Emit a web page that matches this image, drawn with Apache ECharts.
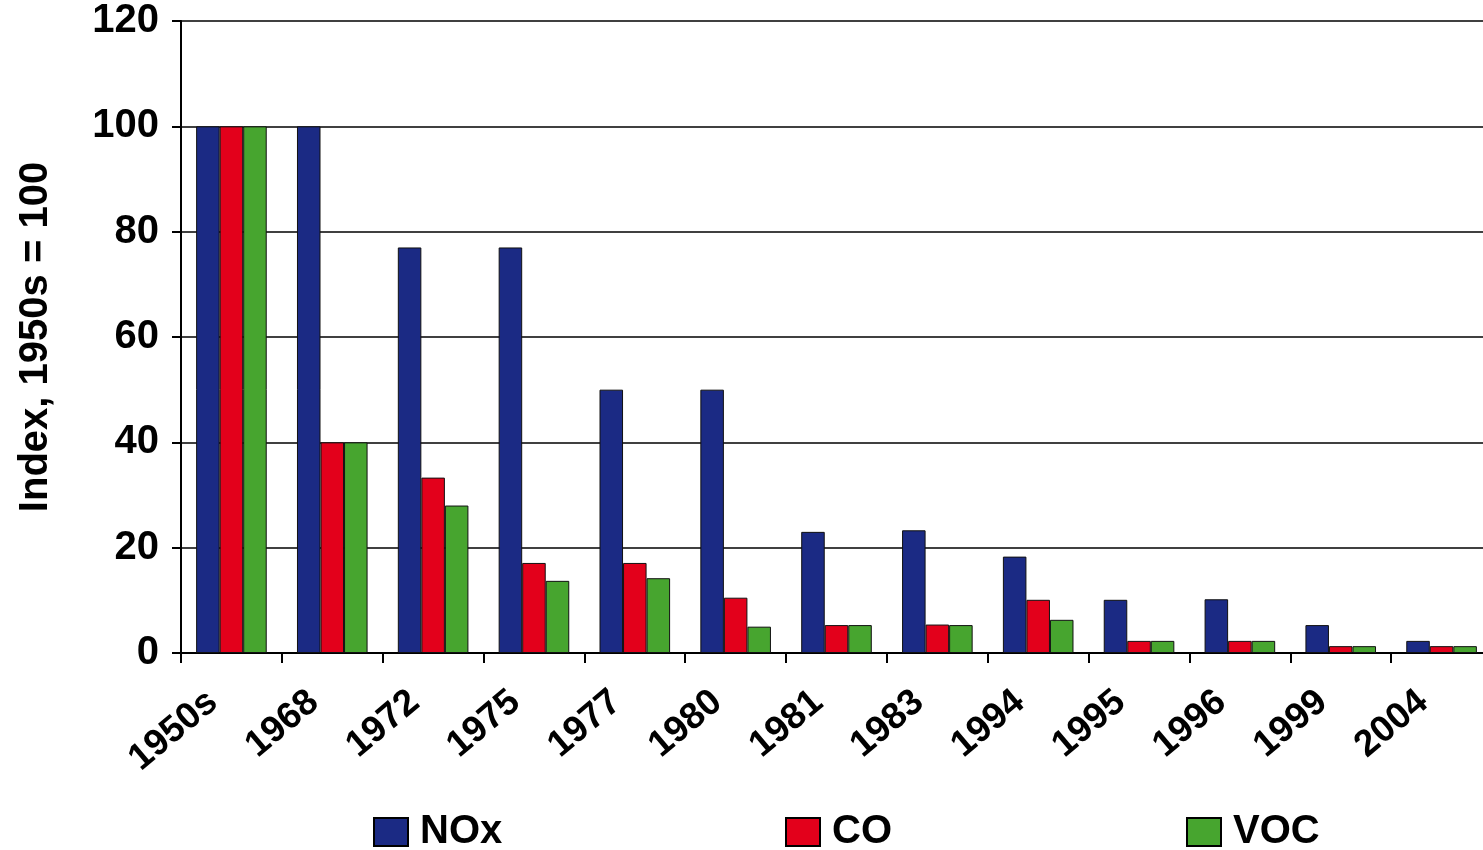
<!DOCTYPE html>
<html>
<head>
<meta charset="utf-8">
<script src="https://cdn.jsdelivr.net/npm/echarts@6/dist/echarts.min.js"></script>
<style>
html,body{margin:0;padding:0;background:#fff;}
#chart{width:1483px;height:850px;}
</style>
</head>
<body>
<div id="chart"></div>
<script>
const categories = ['1950s','1968','1972','1975','1977','1980','1981','1983','1994','1995','1996','1999','2004'];
const noxValues = [100,100,77,77,50,50,23,23.3,18.3,10.1,10.2,5.3,2.3];
const coValues  = [100,40,33.3,17.1,17.1,10.5,5.3,5.4,10.1,2.3,2.3,1.3,1.3];
const vocValues = [100,40,28,13.7,14.2,5,5.3,5.3,6.3,2.3,2.3,1.3,1.3];
const yTicks = { min: 0, max: 120, interval: 20 };
const seriesNames = ['NOx','CO','VOC'];
const seriesColors = ['#1b2a84','#e3001b','#47a52f'];

const FONT = '"Liberation Sans", Arial, sans-serif';
const chart = echarts.init(document.getElementById('chart'), null, {renderer:'canvas'});

function legendFor(i, left){
  return {
    data:[seriesNames[i]], left:left, top:807, orient:'horizontal',
    itemWidth:34, itemHeight:28, icon:'rect',
    itemStyle:{borderColor:'#000', borderWidth:2},
    textStyle:{fontFamily:FONT, fontWeight:'bold', fontSize:40, color:'#000', padding:[0,0,0,7]}
  };
}

const allValues = [noxValues, coValues, vocValues];
chart.setOption({
  animation:false,
  backgroundColor:'#fff',
  grid:{left:181, top:21, height:632, width:1311, containLabel:false, outerBoundsMode:'none'},
  legend:[legendFor(0,368), legendFor(1,780), legendFor(2,1181)],
  xAxis:{
    type:'category', data:categories,
    axisLine:{lineStyle:{color:'#000', width:2}},
    axisTick:{show:true, length:10, lineStyle:{color:'#000', width:2}},
    axisLabel:{rotate:40, margin:29, padding:[0,24,0,0], interval:0, fontFamily:FONT, fontWeight:'bold', fontSize:37, color:'#000'}
  },
  yAxis:{
    type:'value', min:yTicks.min, max:yTicks.max, interval:yTicks.interval,
    name:'Index, 1950s = 100', nameLocation:'middle', nameGap:125,
    nameTextStyle:{fontFamily:FONT, fontWeight:'bold', fontSize:40, color:'#000'},
    axisLine:{show:true, lineStyle:{color:'#000', width:2}},
    axisTick:{show:true, length:9, lineStyle:{color:'#000', width:2}},
    axisLabel:{margin:22, fontFamily:FONT, fontWeight:'bold', fontSize:40, color:'#000'},
    splitLine:{show:true, lineStyle:{color:'#000', width:1.5}}
  },
  series: seriesNames.map((n,i)=>({
    name:n, type:'bar', data:allValues[i],
    barGap:'0%', barCategoryGap:'30%',
    itemStyle:{color:seriesColors[i], borderColor:'#111', borderWidth:1}
  }))
});
</script>
</body>
</html>
